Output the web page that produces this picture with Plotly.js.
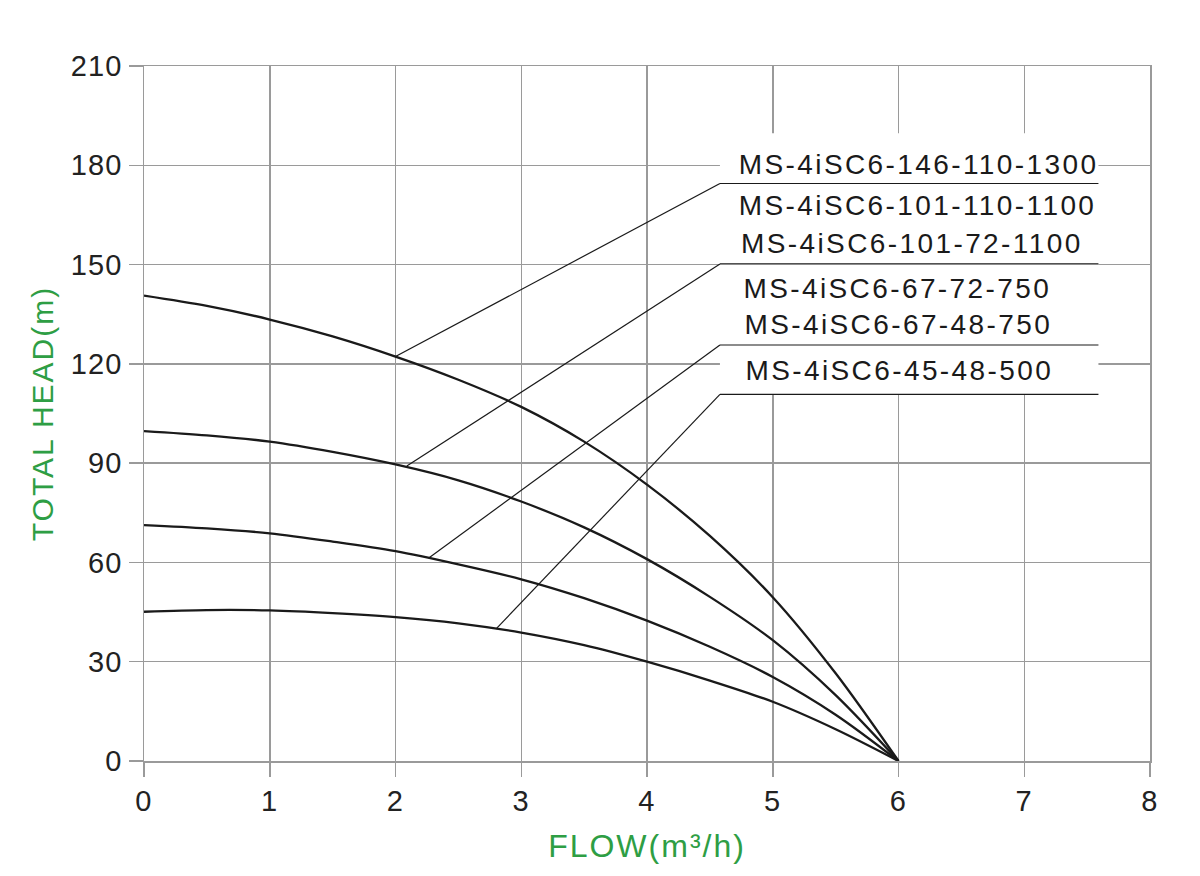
<!DOCTYPE html>
<html>
<head>
<meta charset="utf-8">
<script src="https://cdn.plot.ly/plotly-3.0.1.min.js"></script>
<style>
  html, body { margin: 0; padding: 0; background: #fff; }
  #chart { width: 1200px; height: 876px; }
  .js-plotly-plot .xtick text, .js-plotly-plot .ytick text { letter-spacing: 1.2px; }
  .js-plotly-plot .annotation-text { letter-spacing: 2.4px; }
  .js-plotly-plot .g-xtitle text, .js-plotly-plot .g-ytitle text { letter-spacing: 2px; }
</style>
</head>
<body>
<div id="chart"></div>
<script>
// ---- data ----
const flow = [0, 0.5, 1, 1.5, 2, 2.5, 3, 3.5, 4, 4.5, 5, 5.5, 6];
const headCurve1 = [140.6, 137.5, 133.4, 128.3, 122.2, 115.2, 107.0, 96.5, 83.5, 68.0, 49.5, 26.5, 0];
const headCurve2 = [99.7, 98.4, 96.5, 93.4, 89.6, 84.8, 78.4, 70.6, 61.0, 49.6, 36.5, 19.9, 0];
const headCurve3 = [71.3, 70.3, 68.8, 66.3, 63.4, 59.4, 54.9, 49.2, 42.4, 34.5, 25.4, 14.0, 0];
const headCurve4 = [45.1, 45.6, 45.5, 44.7, 43.5, 41.6, 38.8, 35.0, 30.0, 24.3, 17.9, 9.6, 0];

const modelLabels = [
  "MS-4iSC6-146-110-1300",
  "MS-4iSC6-101-110-1100",
  "MS-4iSC6-101-72-1100",
  "MS-4iSC6-67-72-750",
  "MS-4iSC6-67-48-750",
  "MS-4iSC6-45-48-500"
];

// leader lines: point on curve -> legend block
const leaderCurveX = [2.0, 2.09, 2.27, 2.80];
const leaderCurveY = [122.2, 89.1, 61.5, 39.9];
const leaderLineY  = [174.5, 150.2, 125.7, 110.8];

const xTicks = [0, 1, 2, 3, 4, 5, 6, 7, 8];
const yTicks = [0, 30, 60, 90, 120, 150, 180, 210];

// ---- build chart ----
const curves = [headCurve1, headCurve2, headCurve3, headCurve4];
const traces = curves.map((h) => ({
  x: flow, y: h, type: 'scatter', mode: 'lines',
  line: { color: '#1a1a1a', width: 2.3, shape: 'spline', smoothing: 0.9 },
  hoverinfo: 'skip', showlegend: false
}));

const boxX0 = 4.58, boxX1 = 7.59;
const shapes = [];
// white backing of label block
shapes.push({ type: 'rect', xref: 'x', yref: 'y', x0: boxX0, x1: boxX1, y0: 110.8, y1: 189.7,
  fillcolor: '#ffffff', line: { width: 0 }, layer: 'above' });
leaderLineY.forEach((ly, i) => {
  shapes.push({ type: 'line', xref: 'x', yref: 'y', x0: boxX0, y0: ly, x1: boxX1, y1: ly,
    line: { color: '#1a1a1a', width: 1.2 }, layer: 'above' });
  shapes.push({ type: 'line', xref: 'x', yref: 'y', x0: leaderCurveX[i], y0: leaderCurveY[i], x1: boxX0, y1: ly,
    line: { color: '#1a1a1a', width: 1.2 }, layer: 'above' });
});

const labelX = [6.16, 6.15, 6.11, 5.99, 6.00, 6.01];
const labelY = [180.1, 167.7, 156.5, 142.9, 132.0, 118.1];
const annotations = modelLabels.map((t, i) => ({
  text: t, x: labelX[i], y: labelY[i], xref: 'x', yref: 'y',
  xanchor: 'center', yanchor: 'middle', showarrow: false,
  font: { family: 'Liberation Sans, Arial, sans-serif', size: 28, color: '#1a1a1a' }
}));

const axisCommon = {
  showgrid: true, gridcolor: '#9a9a9a', gridwidth: 1.5,
  zeroline: false,
  showline: true, mirror: true, linecolor: '#9a9a9a', linewidth: 1.5,
  ticks: 'outside', ticklen: 14, tickwidth: 1.5, tickcolor: '#9a9a9a',
  tickfont: { family: 'Liberation Sans, Arial, sans-serif', size: 29, color: '#222' },
  automargin: false
};

const layout = {
  width: 1200, height: 876,
  margin: { l: 144, r: 50, t: 66, b: 115 },
  paper_bgcolor: '#ffffff', plot_bgcolor: '#ffffff',
  showlegend: false,
  xaxis: Object.assign({}, axisCommon, {
    range: [0, 8], tickvals: xTicks, ticktext: xTicks.map(String),
    title: { text: 'FLOW(m³/h)', standoff: 18,
      font: { family: 'Liberation Sans, Arial, sans-serif', size: 32, color: '#2e9e44' } }
  }),
  yaxis: Object.assign({}, axisCommon, {
    range: [0, 210], tickvals: yTicks, ticktext: yTicks.map(String),
    title: { text: 'TOTAL HEAD(m)', standoff: 12,
      font: { family: 'Liberation Sans, Arial, sans-serif', size: 30, color: '#2e9e44' } }
  }),
  shapes: shapes,
  annotations: annotations
};

Plotly.newPlot('chart', traces, layout, { staticPlot: true, displayModeBar: false });
</script>
</body>
</html>
